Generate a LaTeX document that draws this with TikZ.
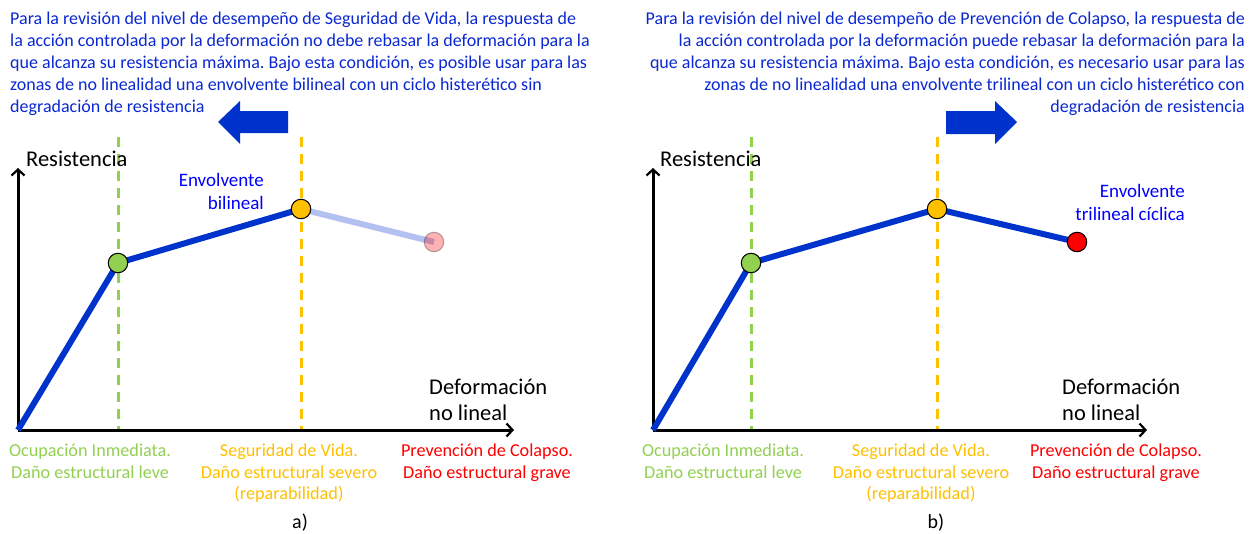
\documentclass[tikz,border=0pt]{standalone}
\usepackage{fontspec}
\setmainfont{Carlito}
\frenchspacing
\usetikzlibrary{arrows.meta}
\definecolor{cblue}{HTML}{0033CC}
\definecolor{tblue}{HTML}{0A28D2}
\definecolor{eblue}{HTML}{0000FF}
\definecolor{cgreen}{HTML}{92D050}
\definecolor{corange}{HTML}{FFC000}
\definecolor{cred}{HTML}{FF0000}
\tikzset{
  axis/.style={line width=3pt, -{Straight Barb[length=6pt,width=13pt,line width=2.2pt]}},
  curve/.style={line width=6pt, cblue, line join=round},
  faded/.style={line width=6pt, cblue, opacity=0.3},
  gdash/.style={line width=3pt, cgreen, dash pattern=on 10pt off 7pt},
  odash/.style={line width=3pt, corange, dash pattern=on 10pt off 7pt},
  pt/.style={circle, draw=black, line width=1pt, minimum size=19.5pt, inner sep=0pt},
  header/.style={inner sep=0pt, text=tblue, font=\fontsize{18}{22}\selectfont},
  axlabel/.style={inner sep=0pt, font=\fontsize{22.5}{23}\selectfont, align=left},
  lvl/.style={inner sep=0pt, font=\fontsize{18.2}{21.5}\selectfont, align=center, anchor=north},
  envlab/.style={inner sep=0pt, text=eblue, font=\fontsize{19}{22.5}\selectfont, align=right},
  bigarrow/.style={fill=cblue, draw=none},
  caption/.style={inner sep=0pt, font=\fontsize{20}{24}\selectfont}
}
\begin{document}
\begin{tikzpicture}[x=1pt,y=-1pt]
\useasboundingbox (0,0) rectangle (1250,533);
% ---------- panel a ----------
\node[header, anchor=north west, align=left] (ha) at (10,12) {Para la revisión del nivel de desempeño de Seguridad de Vida, la respuesta de\\la acción controlada por la deformación no debe rebasar la deformación para la\\que alcanza su resistencia máxima. Bajo esta condición, es posible usar para las\\zonas de no linealidad una envolvente bilineal con un ciclo histerético sin\\degradación de resistencia};
\draw[bigarrow] (218,122) -- (240,101) -- (240,111) -- (288,111) -- (288,133) -- (240,133) -- (240,144) -- cycle;
\coordinate (oa) at (18,430);
\coordinate (yta) at (18,168);
\coordinate (xta) at (514,430);
\coordinate (gtop) at (118,137);
\coordinate (gbot) at (118,430);
\coordinate (otop) at (301,137);
\coordinate (obot) at (301,430);
\coordinate (pga) at (118,263);
\coordinate (poa) at (301,209);
\coordinate (pra) at (434,242);
\draw[gdash] (gtop) -- (gbot);
\draw[odash] (otop) -- (obot);
\draw[axis] (oa) -- (yta);
\draw[axis] (oa) -- (xta);
\draw[faded] (poa) -- (pra);
\draw[curve] (oa) -- (pga) -- (poa);
\node[pt, fill=cgreen] (ga) at (pga) {};
\node[pt, fill=corange] (ya) at (poa) {};
\node[pt, fill=cred, draw=black, opacity=0.3] (ra) at (pra) {};
\node[axlabel, anchor=base west] (resa) at (26,166) {Resistencia};
\node[axlabel, anchor=base west] (defa) at (429,394) {Deformación};
\node[axlabel, anchor=base west] (nla) at (429,420) {no lineal};
\node[envlab, anchor=base east] (enva) at (264,186) {Envolvente};
\node[envlab, anchor=base east] (bila) at (264,209) {bilineal};
\node[lvl, text=cgreen] (oia) at (90,444) {Ocupación Inmediata.\\Daño estructural leve};
\node[lvl, text=corange] (sva) at (289,444) {Seguridad de Vida.\\Daño estructural severo\\(reparabilidad)};
\node[lvl, text=cred] (pca) at (487,444) {Prevención de Colapso.\\Daño estructural grave};
\node[caption, anchor=base] (capa) at (300,528) {a)};
% ---------- panel b ----------
\node[header, anchor=north east, align=right] (hb) at (1245,12) {Para la revisión del nivel de desempeño de Prevención de Colapso, la respuesta de\\la acción controlada por la deformación puede rebasar la deformación para la\\que alcanza su resistencia máxima. Bajo esta condición, es necesario usar para las\\zonas de no linealidad una envolvente trilineal con un ciclo histerético con\\degradación de resistencia};
\draw[bigarrow] (1017,122) -- (995,101) -- (995,111) -- (946,111) -- (946,134) -- (995,134) -- (995,144) -- cycle;
\coordinate (ob) at (653,430);
\coordinate (ytb) at (653,168);
\coordinate (xtb) at (1147,430);
\coordinate (gtopb) at (751,137);
\coordinate (gbotb) at (751,430);
\coordinate (otopb) at (937,137);
\coordinate (obotb) at (937,430);
\coordinate (pgb) at (751,263);
\coordinate (pob) at (937,209);
\coordinate (prb) at (1077,242);
\draw[gdash] (gtopb) -- (gbotb);
\draw[odash] (otopb) -- (obotb);
\draw[axis] (ob) -- (ytb);
\draw[axis] (ob) -- (xtb);
\draw[curve] (ob) -- (pgb) -- (pob) -- (prb);
\node[pt, fill=cgreen] (gb) at (pgb) {};
\node[pt, fill=corange] (yb) at (pob) {};
\node[pt, fill=cred] (rb) at (prb) {};
\node[axlabel, anchor=base west] (resb) at (660,166) {Resistencia};
\node[axlabel, anchor=base west] (defb) at (1062,394) {Deformación};
\node[axlabel, anchor=base west] (nlb) at (1062,420) {no lineal};
\node[envlab, anchor=base east] (envb) at (1185,197) {Envolvente};
\node[envlab, anchor=base east] (trib) at (1185,220) {trilineal cíclica};
\node[lvl, text=cgreen] (oib) at (723,444) {Ocupación Inmediata.\\Daño estructural leve};
\node[lvl, text=corange] (svb) at (921,444) {Seguridad de Vida.\\Daño estructural severo\\(reparabilidad)};
\node[lvl, text=cred] (pcb) at (1116,444) {Prevención de Colapso.\\Daño estructural grave};
\node[caption, anchor=base] (capb) at (936,528) {b)};
\end{tikzpicture}
\end{document}
